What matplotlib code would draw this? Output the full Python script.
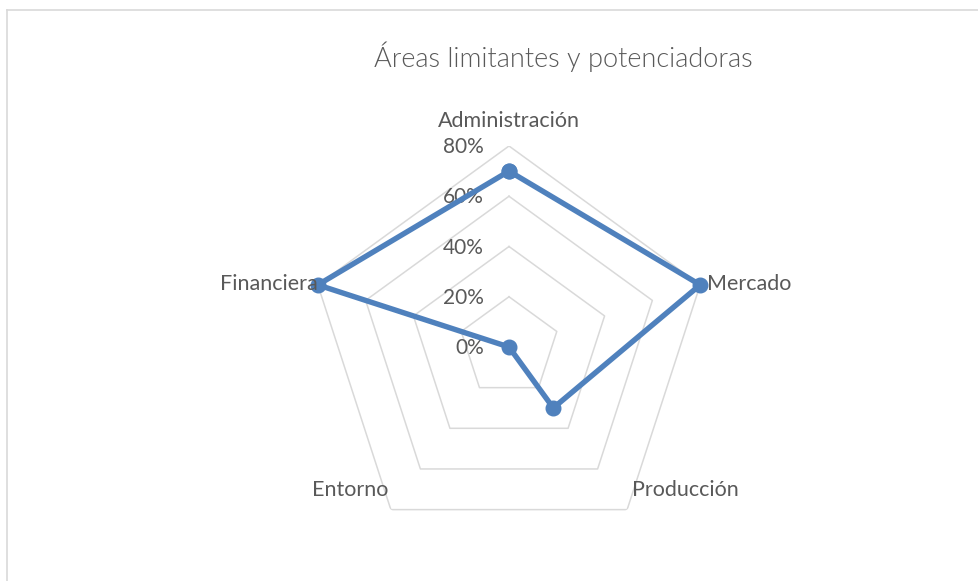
import numpy as np
import matplotlib
matplotlib.use('Agg')
import matplotlib.pyplot as plt
import matplotlib.transforms as mtransforms
from matplotlib.lines import Line2D

# data
categories = ['Administración', 'Mercado', 'Producción', 'Entorno', 'Financiera']
values = [0.70, 0.80, 0.30, 0.00, 0.80]
ticks = [0.0, 0.2, 0.4, 0.6, 0.8]
tick_labels = ['0%', '20%', '40%', '60%', '80%']
title = 'Áreas limitantes y potenciadoras'

plt.rcParams['font.family'] = ['Lato', 'DejaVu Sans']
txt_col = '#595959'
grid_col = '#D9D9D9'
line_col = '#4F81BD'
fs = 15.5

fig = plt.figure(figsize=(9.79, 5.81), dpi=100)
W, H = 979, 581
cx, cy, R = 509, 347, 201
ax = fig.add_axes([(cx - R) / W, (H - cy - R) / H, 2 * R / W, 2 * R / H], projection='polar')
ax.set_theta_offset(np.pi / 2)
ax.set_theta_direction(-1)
ax.set_ylim(0, ticks[-1])
ax.grid(False)
ax.spines['polar'].set_visible(False)
ax.set_xticks([])
ax.set_yticks([])
ax.patch.set_alpha(0)

n = len(categories)
theta = np.arange(n) * 2 * np.pi / n
theta_c = np.append(theta, theta[0])

# pentagon rings (no spokes, like Excel default)
for t in ticks[1:]:
    ax.plot(theta_c, [t] * (n + 1), color=grid_col, lw=1.1, zorder=1)

# series
vals_c = values + [values[0]]
ax.plot(theta_c, vals_c, color=line_col, lw=3.9, marker='o', ms=10.5, zorder=3, clip_on=False)

def off(dx, dy):
    # shift in pixels (dpi 100)
    return ax.transData + mtransforms.ScaledTranslation(dx / 100, dy / 100, fig.dpi_scale_trans)

# value axis labels
for t, lab in zip(ticks, tick_labels):
    ax.text(0, t, lab, ha='right', va='center', fontsize=fs - 0.5, color=txt_col, zorder=2,
            transform=off(-25, -1))

# category labels
rl = ticks[-1]
ax.text(theta[0], rl, categories[0], ha='center', va='center', fontsize=fs, color=txt_col,
        transform=off(0, 25))
ax.text(theta[1], rl, categories[1], ha='left', va='center', fontsize=fs, color=txt_col,
        transform=off(7, 1))
ax.text(theta[2], rl, categories[2], ha='left', va='center', fontsize=fs, color=txt_col,
        transform=off(5, 20))
ax.text(theta[3], rl, categories[3], ha='right', va='center', fontsize=fs, color=txt_col,
        transform=off(-2, 20))
ax.text(theta[4], rl, categories[4], ha='right', va='center', fontsize=fs, color=txt_col,
        transform=off(0, 1))

fig.text(563 / W, 1 - 57 / H, title, ha='center', va='center', fontsize=19.5, color=txt_col,
         fontweight=300)

# chart frame
fig.add_artist(Line2D([7 / W, 7 / W], [0, 1 - 10 / H], color=grid_col, lw=1.2))
fig.add_artist(Line2D([7 / W, 1], [1 - 10 / H, 1 - 10 / H], color=grid_col, lw=1.2))

fig.savefig('out.png', dpi=100, facecolor='white')
